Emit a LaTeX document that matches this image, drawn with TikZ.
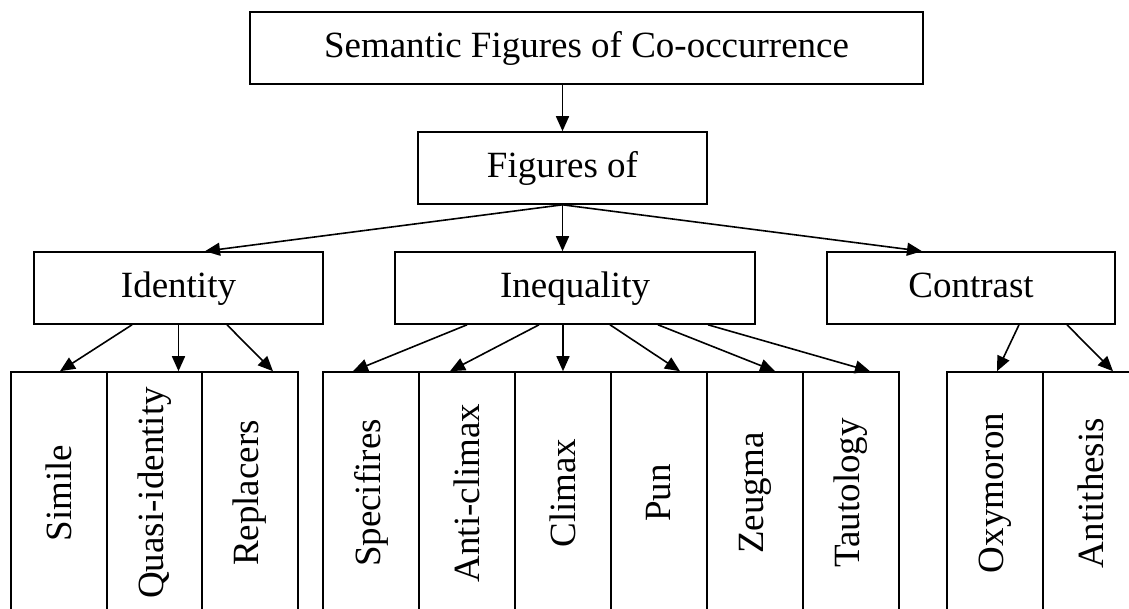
\documentclass[tikz,border=0pt]{standalone}
\usepackage{fontspec}
\usepackage{graphicx}
\setmainfont{Liberation Serif}
\usetikzlibrary{arrows.meta,calc}
\tikzset{
  box/.style={draw, line width=1.6pt, rectangle, inner sep=0pt, minimum height=72pt,
    text height=26pt, text depth=8pt, font=\fontsize{37}{44}\selectfont},
  col/.style={draw, line width=1.6pt, rectangle, inner sep=0pt, minimum width=96pt,
    minimum height=242pt, font=\fontsize{37}{44}\selectfont},
  conn/.style={line width=1.6pt, -{Triangle[length=15pt,width=13pt]}}
}
\begin{document}
\begin{tikzpicture}[x=1pt,y=-1pt]
\clip (0,0) rectangle (1129,608);
\fill[white] (0,0) rectangle (1129,608);
% top levels
\node[box, minimum width=673pt] (top) at (586.5,48) {Semantic Figures of Co-occurrence};
\node[box, minimum width=289pt] (fig) at (562.5,168) {Figures of};
\node[box, minimum width=289pt] (id) at (178.5,288) {Identity};
\node[box, minimum width=360pt] (ineq) at (575,288) {Inequality};
\node[box, minimum width=288pt] (con) at (971,288) {Contrast};
% columns
\node[col] (simile) at (59,493) {\rotatebox{90}{Simile}};
\node[col] (quasi) at (154.5,493) {\rotatebox{90}{Quasi-identity}};
\node[col] (repl) at (250,493) {\rotatebox{90}{Replacers}};
\node[col] (spec) at (371,493) {\rotatebox{90}{Specifires}};
\node[col] (anti) at (467,493) {\rotatebox{90}{Anti-climax}};
\node[col] (clim) at (563,493) {\rotatebox{90}{Climax}};
\node[col] (pun) at (659,493) {\rotatebox{90}{Pun}};
\node[col] (zeug) at (755,493) {\rotatebox{90}{Zeugma}};
\node[col] (taut) at (851,493) {\rotatebox{90}{Tautology}};
\node[col] (oxy) at (995,493) {\rotatebox{90}{Oxymoron}};
\node[col] (antit) at (1091,493) {\rotatebox{90}{Antithesis}};
% connectors
\draw[conn] (top.south -| fig.north) -- (fig.north);
\draw[conn] (fig.south) -- ([xshift=26.5pt]id.north);
\draw[conn] (fig.south) -- (fig.south |- ineq.north);
\draw[conn] (fig.south) -- ([xshift=-49pt]con.north);
% identity
\draw[conn] ([xshift=-46.5pt]id.south) -- ([xshift=1pt]simile.north);
\draw[conn] (id.south) -- (id.south |- quasi.north);
\draw[conn] ([xshift=48.5pt]id.south) -- ([xshift=23pt]repl.north);
% inequality
\draw[conn] ([xshift=-108pt]ineq.south) -- ([xshift=-18pt]spec.north);
\draw[conn] ([xshift=-36pt]ineq.south) -- ([xshift=-17pt]anti.north);
\draw[conn] ([xshift=-12pt]ineq.south) -- (clim.north);
\draw[conn] ([xshift=35pt]ineq.south) -- ([xshift=21pt]pun.north);
\draw[conn] ([xshift=83pt]ineq.south) -- ([xshift=20pt]zeug.north);
\draw[conn] ([xshift=133pt]ineq.south) -- ([xshift=19pt]taut.north);
% contrast
\draw[conn] ([xshift=48pt]con.south) -- ([xshift=2pt]oxy.north);
\draw[conn] ([xshift=96pt]con.south) -- ([xshift=22pt]antit.north);
\end{tikzpicture}
\end{document}
